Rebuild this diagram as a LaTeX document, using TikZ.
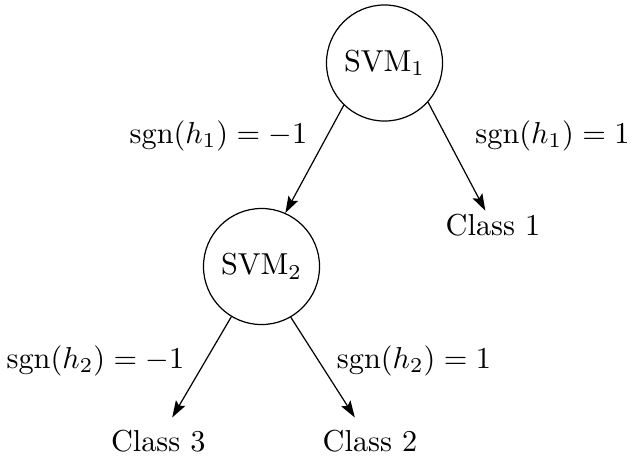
\documentclass[tikz,border=0pt]{standalone}
\usetikzlibrary{arrows.meta}
\begin{document}
\begin{tikzpicture}[x=0.33pt,y=-0.33pt,
  svm/.style={circle,draw,line width=0.4pt,minimum size=38.3pt,inner sep=0pt},
  arr/.style={-{Stealth[length=5.5pt,width=3.6pt,inset=1pt]},line width=0.4pt},
  lab/.style={anchor=base,inner sep=0pt}]
\useasboundingbox (0,0) rectangle (630,457);
\node[svm] (s1) at (384.5,63) {SVM$_1$};
\node[svm] (s2) at (261.5,266.5) {SVM$_2$};
\node[inner sep=1pt] (c1) at (493,225.3) {Class 1};
\node[inner sep=4pt] (c3) at (158.3,441.2) {Class 3};
\node[inner sep=4pt] (c2) at (370,441.2) {Class 2};
\draw[arr] (s1.226) -- (s2.66);
\draw[arr] (s1.318) -- (c1);
\draw[arr] (s2.239) -- (c3);
\draw[arr] (s2.300) -- (c2);
\node[lab] (l1) at (218.5,143) {$\mathrm{sgn}(h_1)=-1$};
\node[lab] (l2) at (552.5,143) {$\mathrm{sgn}(h_1)=1$};
\node[lab] (l3) at (95.5,368) {$\mathrm{sgn}(h_2)=-1$};
\node[lab] (l4) at (414,368) {$\mathrm{sgn}(h_2)=1$};
\end{tikzpicture}
\end{document}
